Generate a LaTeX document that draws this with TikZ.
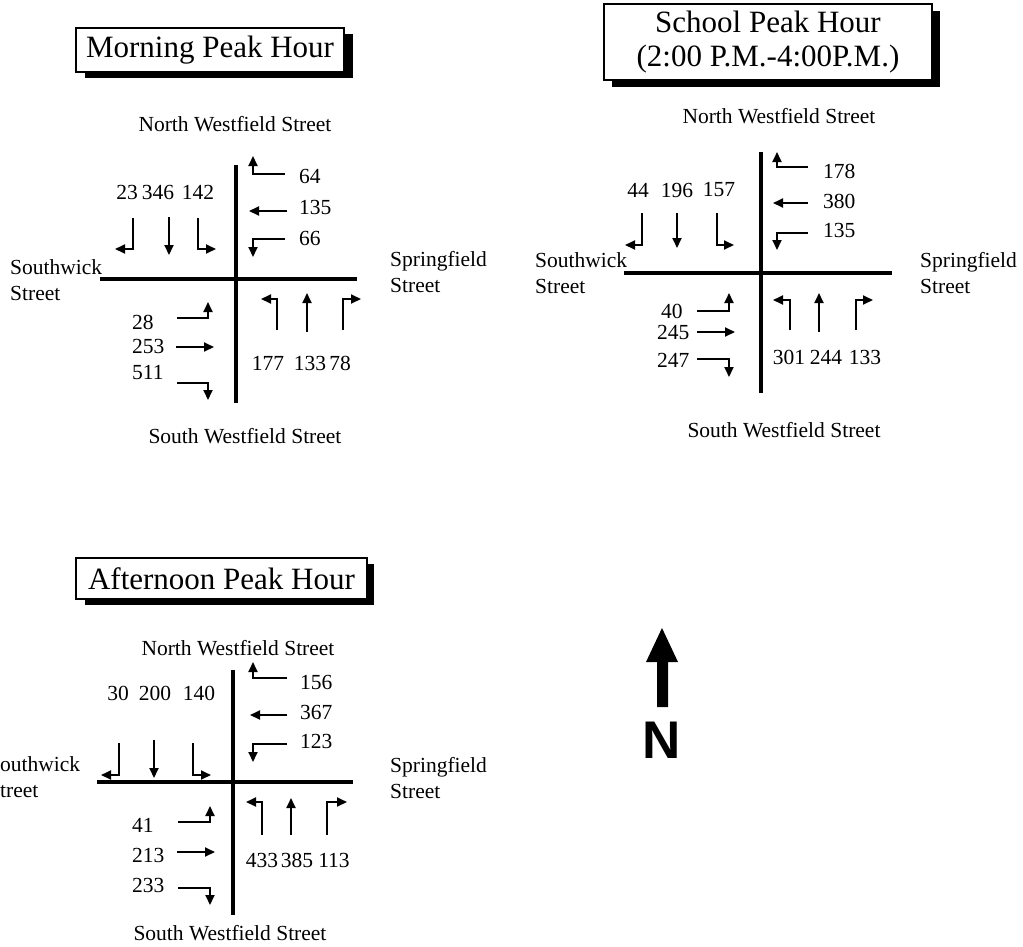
\documentclass[tikz,border=0pt]{standalone}
\usepackage{fontspec}
\setmainfont{Liberation Serif}
\usetikzlibrary{arrows.meta}
\tikzset{
  road/.style={line width=4.5pt},
  mv/.style={line width=1.8pt,-{Triangle[length=10pt,width=9pt]}},
  lbl/.style={inner sep=0pt,font=\fontsize{21.5}{25}\selectfont},
  street/.style={inner sep=0pt,align=left,anchor=west,font=\fontsize{21.5}{26}\selectfont},
  titlebox/.style={draw,line width=1.5pt,fill=white,inner sep=0pt,align=center,font=\fontsize{31}{34}\selectfont},
  shade/.style={fill=black}
}
\begin{document}
\begin{tikzpicture}[x=1pt,y=-1pt]
\useasboundingbox (0,0) rectangle (1023,946);

% ---------------- Morning peak hour ----------------
\fill[shade] (85,34) rectangle (353,78);
\node[titlebox,minimum width=268pt,minimum height=44pt] (mTitle) at (210,50) {Morning Peak Hour};
\node[lbl] (mN) at (235,124) {North Westfield Street};
\node[lbl] (mS) at (245,436) {South Westfield Street};
\node[street] (mW) at (10,280) {Southwick\\Street};
\node[street] (mE) at (390,272) {Springfield\\Street};
\draw[road] (236,165) -- (236,403);
\draw[road] (100,279) -- (357,279);
% southbound
\node[lbl] (m1) at (127,192) {23};
\node[lbl] (m2) at (158,192) {346};
\node[lbl] (m3) at (198,192) {142};
\draw[mv] (133,218) |- (115,249);
\draw[mv] (169,217) -- (169,255);
\draw[mv] (198,218) |- (216,249);
% westbound
\node[lbl,anchor=west] (m4) at (299,176) {64};
\node[lbl,anchor=west] (m5) at (299,207) {135};
\node[lbl,anchor=west] (m6) at (299,238) {66};
\draw[mv] (285,174) -| (253,156);
\draw[mv] (287,211) -- (249,211);
\draw[mv] (285,239) -| (253,257);
% eastbound
\node[lbl,anchor=west] (m7) at (132,322) {28};
\node[lbl,anchor=west] (m8) at (132,346) {253};
\node[lbl,anchor=west] (m9) at (132,372) {511};
\draw[mv] (177,318) -| (208,302);
\draw[mv] (176,347) -- (214,347);
\draw[mv] (177,383) -| (208,400);
% northbound
\node[lbl] (m10) at (268,363) {177};
\node[lbl] (m11) at (310,363) {133};
\node[lbl] (m12) at (340,363) {78};
\draw[mv] (277,330) |- (261,299);
\draw[mv] (307,332) -- (307,293);
\draw[mv] (343,330) |- (361,299);

% ---------------- School peak hour ----------------
\fill[shade] (612,11) rectangle (940,87);
\node[titlebox,minimum width=328pt,minimum height=76pt] (sTitle) at (768,42) {School Peak Hour\\(2:00 P.M.-4:00P.M.)};
\node[lbl] (sN) at (779,116) {North Westfield Street};
\node[lbl] (sS) at (784,430) {South Westfield Street};
\node[street] (sW) at (535,273) {Southwick\\Street};
\node[street] (sE) at (920,273) {Springfield\\Street};
\draw[road] (761,152) -- (761,393);
\draw[road] (624,273) -- (892,273);
% southbound
\node[lbl] (s1) at (638,190) {44};
\node[lbl] (s2) at (677,190) {196};
\node[lbl] (s3) at (719,190) {157};
\draw[mv] (642,213) |- (625,245);
\draw[mv] (677,213) -- (677,248);
\draw[mv] (717,213) |- (734,245);
% westbound
\node[lbl,anchor=west] (s4) at (823,171) {178};
\node[lbl,anchor=west] (s5) at (823,201) {380};
\node[lbl,anchor=west] (s6) at (823,230) {135};
\draw[mv] (808,167) -| (777,152);
\draw[mv] (808,203) -- (773,203);
\draw[mv] (808,233) -| (777,250);
% eastbound
\node[lbl,anchor=west] (s7) at (661,311) {40};
\node[lbl,anchor=west] (s8) at (657,332) {245};
\node[lbl,anchor=west] (s9) at (657,360) {247};
\draw[mv] (697,311) -| (729,293);
\draw[mv] (697,332) -- (735,332);
\draw[mv] (697,359) -| (729,377);
% northbound
\node[lbl] (s10) at (789,357) {301};
\node[lbl] (s11) at (826,357) {244};
\node[lbl] (s12) at (865,357) {133};
\draw[mv] (790,330) |- (773,300);
\draw[mv] (819,332) -- (819,293);
\draw[mv] (856,330) |- (873,300);

% ---------------- Afternoon peak hour ----------------
\fill[shade] (85,564) rectangle (374,605);
\node[titlebox,minimum width=291pt,minimum height=41pt] (aTitle) at (221.5,578.5) {Afternoon Peak Hour};
\node[lbl] (aN) at (238,648) {North Westfield Street};
\node[lbl] (aS) at (230,933) {South Westfield Street};
\node[street] (aW) at (-12,777) {Southwick\\Street};
\node[street] (aE) at (390,778) {Springfield\\Street};
\draw[road] (233,670) -- (233,915);
\draw[road] (97,782) -- (353,782);
% southbound
\node[lbl] (a1) at (118,693) {30};
\node[lbl] (a2) at (155,693) {200};
\node[lbl] (a3) at (199,693) {140};
\draw[mv] (119,743) |- (101,775);
\draw[mv] (154,740) -- (154,778);
\draw[mv] (193,743) |- (211,775);
% westbound
\node[lbl,anchor=west] (a4) at (300,682) {156};
\node[lbl,anchor=west] (a5) at (300,712) {367};
\node[lbl,anchor=west] (a6) at (300,741) {123};
\draw[mv] (287,678) -| (253,662);
\draw[mv] (287,715) -- (250,715);
\draw[mv] (287,744) -| (253,762);
% eastbound
\node[lbl,anchor=west] (a7) at (132,825) {41};
\node[lbl,anchor=west] (a8) at (132,855) {213};
\node[lbl,anchor=west] (a9) at (132,885) {233};
\draw[mv] (178,822) -| (210,806);
\draw[mv] (177,852) -- (215,852);
\draw[mv] (178,888) -| (210,905);
% northbound
\node[lbl] (a10) at (262,860) {433};
\node[lbl] (a11) at (297,860) {385};
\node[lbl] (a12) at (334,860) {113};
\draw[mv] (262,835) |- (246,802);
\draw[mv] (291,835) -- (291,798);
\draw[mv] (327,835) |- (347,802);

% ---------------- North arrow ----------------
\fill (657,707) -- (657,662) -- (646,662) -- (662,628) -- (678,662) -- (668,662) -- (668,707) -- cycle;
\node[inner sep=0pt,font=\fontsize{53}{53}\fontspec{Liberation Sans Bold}] (north) at (662,740) {N};
\end{tikzpicture}
\end{document}
